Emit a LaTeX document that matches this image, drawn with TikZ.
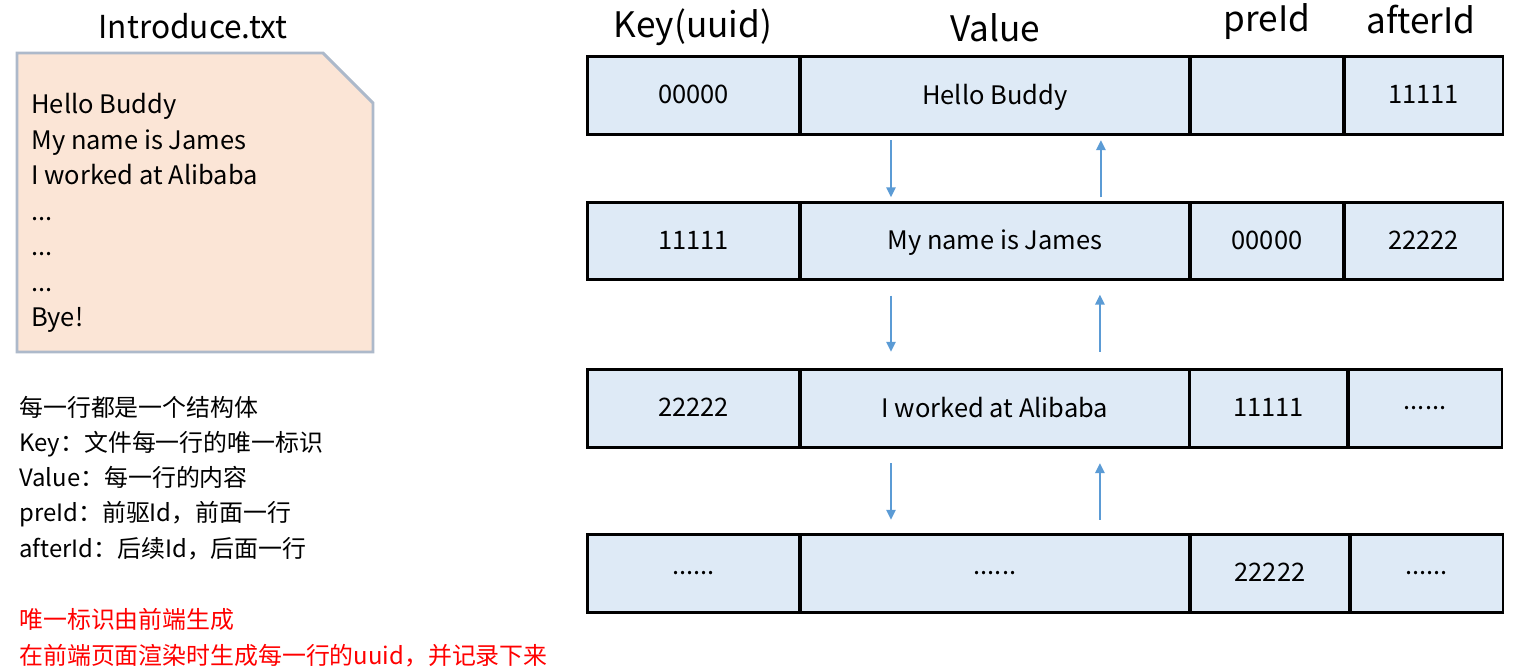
\documentclass[tikz,border=0pt]{standalone}
\usepackage{fontspec}
\setmainfont{Noto Sans CJK SC}
\usetikzlibrary{arrows.meta,positioning}
\definecolor{cellblue}{RGB}{222,234,246}
\definecolor{peach}{RGB}{251,229,214}
\definecolor{edgegray}{RGB}{173,185,202}
\definecolor{linkblue}{RGB}{91,155,213}

\begin{document}
\begin{tikzpicture}[x=0.02cm, y=-0.02cm, >={Triangle[length=2mm,width=1.9mm]},
	   font=\fontsize{14.5}{17}\selectfont,
	   cell/.style={draw, line width=1.7pt, fill=cellblue, inner sep=0pt, outer sep=0pt, minimum height=1.55cm, anchor=west, text depth=0.1em},
	   hd/.style={font=\fontsize{20}{24}\selectfont},
	   lnk/.style={->, linkblue, line width=0.9pt}]
	  \useasboundingbox (0,0) rectangle (1513,672);
	  % the text file
	  \node[font=\fontsize{18}{22}\selectfont] (title) at (193,26) {Introduce.txt};
	  \draw[line width=1.7pt, draw=edgegray, fill=peach] (17,53) -- (323,53) -- (373,103) -- (373,352) -- (17,352) -- cycle;
	  \node[anchor=west, align=left, inner sep=0pt, font=\fontsize{14.5}{20.2}\selectfont] (lines) at (31,213) {Hello Buddy\\ My name is James\\ I worked at Alibaba\\ ...\\ ...\\ ...\\ Bye!};
	  \node[anchor=west, align=left, inner sep=0pt, font=\fontsize{13.6}{20}\selectfont] (notes) at (19,478) {每一行都是一个结构体\\ Key：文件每一行的唯一标识\\ Value：每一行的内容\\ preId：前驱Id，前面一行\\ afterId：后续Id，后面一行};
	  \node[anchor=west, align=left, inner sep=0pt, text=red, font=\fontsize{13.6}{20.4}\selectfont] (tip) at (19,638) {唯一标识由前端生成\\ 在前端页面渲染时生成每一行的uuid，并记录下来};
	  % headers
	  \node[hd] (hk) at (693,27) {Key(uuid)};
	  \node[hd] (hv) at (995,28) {Value};
	  \node[hd] (hp) at (1267,22) {preId};
	  \node[hd] (ha) at (1421,20) {afterId};
	  % rows
	  \node[cell, minimum width=4.26cm] (k1) at (587,95.5) {00000};
	  \node[cell, minimum width=7.8cm] (v1) at (800,95.5) {Hello Buddy};
	  \node[cell, minimum width=3.08cm] (p1) at (1190,95.5) {};
	  \node[cell, minimum width=3.18cm] (a1) at (1344,95.5) {11111};
	  \node[cell, minimum width=4.26cm] (k2) at (587,241) {11111};
	  \node[cell, minimum width=7.8cm] (v2) at (800,241) {My name is James};
	  \node[cell, minimum width=3.08cm] (p2) at (1190,241) {00000};
	  \node[cell, minimum width=3.18cm] (a2) at (1344,241) {22222};
	  \node[cell, minimum width=4.26cm] (k3) at (587,408.5) {22222};
	  \node[cell, minimum width=7.8cm] (v3) at (800,408.5) {I worked at Alibaba};
	  \node[cell, minimum width=3.18cm] (p3) at (1189,408.5) {11111};
	  \node[cell, minimum width=3.08cm] (a3) at (1348,408.5) {......};
	  \node[cell, minimum width=4.26cm] (k4) at (587,573.5) {......};
	  \node[cell, minimum width=7.8cm] (v4) at (800,573.5) {......};
	  \node[cell, minimum width=3.2cm] (p4) at (1190,573.5) {22222};
	  \node[cell, minimum width=3.06cm] (a4) at (1350,573.5) {......};
	  % links between rows
	  \draw[lnk, shorten <=0.12cm, shorten >=0.1cm] ([xshift=-2.08cm]v1.south) -- ([xshift=-2.08cm]v2.north);
	  \draw[lnk, shorten <=0.1cm, shorten >=0.12cm] ([xshift=2.12cm]v2.north) -- ([xshift=2.12cm]v1.south);
	  \draw[lnk, shorten <=0.32cm, shorten >=0.36cm] ([xshift=-2.08cm]v2.south) -- ([xshift=-2.08cm]v3.north);
	  \draw[lnk, shorten <=0.36cm, shorten >=0.3cm] ([xshift=2.1cm]v3.north) -- ([xshift=2.1cm]v2.south);
	  \draw[lnk, shorten <=0.32cm, shorten >=0.3cm] ([xshift=-2.08cm]v3.south) -- ([xshift=-2.08cm]v4.north);
	  \draw[lnk, shorten <=0.3cm, shorten >=0.32cm] ([xshift=2.1cm]v4.north) -- ([xshift=2.1cm]v3.south);
	\end{tikzpicture}
\end{document}
